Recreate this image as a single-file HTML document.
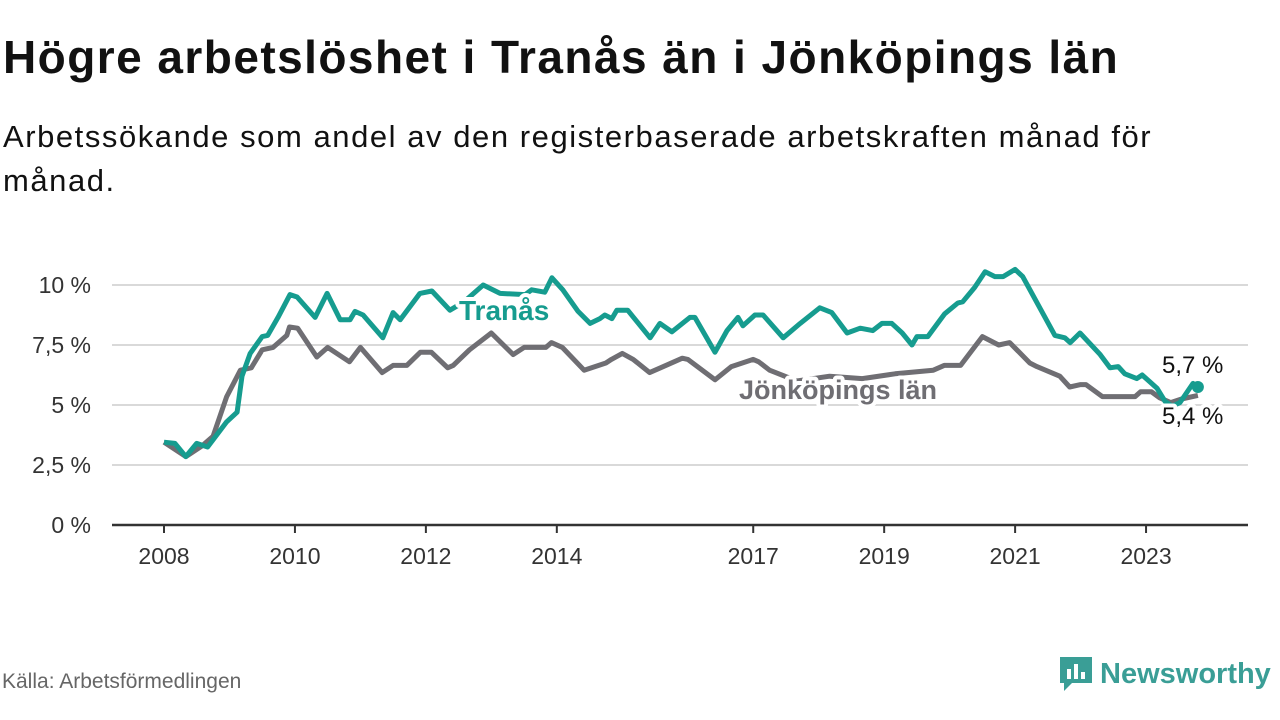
<!DOCTYPE html>
<html><head><meta charset="utf-8">
<style>
body{margin:0;width:1280px;height:720px;background:#fff;font-family:"Liberation Sans","DejaVu Sans",sans-serif;overflow:hidden;position:relative}
#title{position:absolute;left:3px;top:30px;font-size:46px;font-weight:bold;color:#111;margin:0;letter-spacing:1.45px;white-space:nowrap}
#sub{position:absolute;left:3px;top:115px;font-size:31px;color:#111;line-height:44px;width:1250px;letter-spacing:1.55px}
#src{position:absolute;left:2px;top:670px;font-size:21px;color:#666}
#logo{position:absolute;left:1058px;top:655px;display:flex;align-items:center}
</style></head><body>
<h1 id="title">Högre arbetslöshet i Tranås än i Jönköpings län</h1>
<div id="sub">Arbetssökande som andel av den registerbaserade arbetskraften månad för<br>månad.</div>
<svg id="chart" width="1280" height="720" style="position:absolute;left:0;top:0"></svg>
<div id="src">Källa: Arbetsförmedlingen</div>
<div id="logo">
<svg width="36" height="38"><path d="M2 2h32v26h-20l-8 8v-8h-4z" fill="#3a9e96"/><rect x="9" y="14" width="4" height="10" fill="#fff"/><rect x="16" y="9" width="4" height="15" fill="#fff"/><rect x="23" y="17" width="4" height="7" fill="#fff"/></svg>
<span style="font-size:29px;font-weight:bold;color:#3a9e96;margin-left:6px">Newsworthy</span></div>
<script>
const yTicks=[0,2.5,5,7.5,10];
const yTickLabels=["0 %","2,5 %","5 %","7,5 %","10 %"];
const xTickYears=[2008,2010,2012,2014,2017,2019,2021,2023];
const tranasMonths=[0,2,4,6,8,11.5,13.4,14.3,15.8,18,19,20.9,23.1,24.4,27.7,29.9,32.3,34.1,35,36.5,40.1,42,43.3,46.9,49.1,52.4,55,58.5,61.6,66.2,67.4,69.8,71.1,73.1,75.9,78.1,79.9,80.8,82.1,83,85,89.1,90.9,93.1,96.4,97.3,101,103.2,105.2,106.1,108.3,109.8,113.5,116.6,120.2,122.4,125.2,127.6,129.9,131.6,133.4,135.3,137.1,138,140,143.1,145.5,146.4,148.6,150.5,152.3,153.8,156,157.4,163.3,165.1,166.1,167.9,171.6,173.4,174.9,176.1,178.3,179.3,182,183.5,184.8,186.2,188.6,189.5];
const tranasValues=[3.45,3.4,2.85,3.4,3.25,4.3,4.7,6.2,7.15,7.85,7.9,8.65,9.6,9.5,8.65,9.65,8.55,8.55,8.9,8.75,7.8,8.85,8.55,9.65,9.75,8.95,9.3,10.0,9.65,9.6,9.8,9.7,10.3,9.8,8.9,8.4,8.6,8.75,8.6,8.95,8.95,7.8,8.4,8.05,8.65,8.65,7.2,8.1,8.65,8.3,8.75,8.75,7.8,8.4,9.05,8.85,8.0,8.2,8.1,8.4,8.4,8.0,7.5,7.85,7.85,8.8,9.25,9.3,9.9,10.55,10.35,10.35,10.65,10.35,7.9,7.8,7.6,8.0,7.1,6.55,6.6,6.3,6.1,6.25,5.7,5.15,4.95,5.1,5.9,5.75];
const jkpMonths=[0,4,7,9,11.5,14,16,18,20,22.5,23,24.5,28,30,34,36,40,42,44.5,47,49,52,53,56,60,64,66,70,71,73,77,79,81,82,84,86,89,91,95,96,101,104,108,109,111,116,122,128,134,141,143,146,150,153,155,158.7,160,164.2,166,168,169,172,178,179,181,182.5,184.5,186.5,189.5];
const jkpValues=[3.45,2.85,3.3,3.7,5.35,6.45,6.55,7.3,7.4,7.9,8.25,8.2,7.0,7.4,6.8,7.4,6.35,6.65,6.65,7.2,7.2,6.55,6.65,7.3,8.0,7.1,7.4,7.4,7.6,7.4,6.45,6.6,6.75,6.9,7.15,6.9,6.35,6.55,6.95,6.9,6.05,6.6,6.9,6.8,6.45,6.0,6.2,6.1,6.3,6.45,6.65,6.65,7.85,7.5,7.6,6.75,6.6,6.2,5.75,5.85,5.85,5.35,5.35,5.55,5.55,5.3,5.1,5.25,5.4];
const NS="http://www.w3.org/2000/svg";
const svg=document.getElementById('chart');
const X0=164,PX_YEAR=65.47;
function xMonth(m){return X0+m*PX_YEAR/12;}
function xYear(y){return X0+(y-2008)*PX_YEAR;}
function yVal(v){return 525-v*24;}
function mk(tag,attrs){const e=document.createElementNS(NS,tag);for(const k in attrs)e.setAttribute(k,attrs[k]);svg.appendChild(e);return e;}
yTicks.forEach((t,i)=>{
 const g=mk('line',{x1:112,x2:1248,y1:yVal(t),y2:yVal(t),stroke:t===0?'#333':'#d9d9d9','stroke-width':t===0?2.5:2});
 
 
 const l=mk('text',{x:91,y:yVal(t)+8,'text-anchor':'end','font-size':23,fill:'#333'});
 l.textContent=yTickLabels[i];
 
 
});
xTickYears.forEach(yr=>{
 const x=xYear(yr);
 const t=mk('line',{x1:x,x2:x,y1:525,y2:533,stroke:'#333','stroke-width':2});
 
 
 const l=mk('text',{x:x,y:564,'text-anchor':'middle','font-size':23,fill:'#333'});
 l.textContent=yr;
 
 
});
function path(ms,vs){return ms.map((m,i)=>(i?'L':'M')+xMonth(m).toFixed(1)+' '+yVal(vs[i]).toFixed(1)).join(' ');}
const jl=mk('path',{d:path(jkpMonths,jkpValues),fill:'none',stroke:'#6f6e73','stroke-width':5,'stroke-linejoin':'round'});


const tl=mk('path',{d:path(tranasMonths,tranasValues),fill:'none',stroke:'#169c8f','stroke-width':5,'stroke-linejoin':'round'});


const lastT=tranasMonths.length-1;
const dot=mk('circle',{cx:xMonth(tranasMonths[lastT]),cy:yVal(tranasValues[lastT]),r:6,fill:'#169c8f'});


function lbl(txt,x,y,fill,bold,name,fs){const t=mk('text',{x:x,y:y,'font-size':fs,'font-weight':bold?'bold':'normal',fill:fill,stroke:'#fff','stroke-width':8,'paint-order':'stroke','stroke-linejoin':'round'});t.textContent=txt;}
lbl('Tranås',459,320,'#169c8f',true,'tranas-label',28);
lbl('Jönköpings län',739,399,'#6f6e73',true,'jonkoping-label',27);
lbl('5,7 %',1162,373,'#111',false,'tranas-value-label',24);
lbl('5,4 %',1162,424,'#111',false,'jonkoping-value-label',24);
</script>
</body></html>
